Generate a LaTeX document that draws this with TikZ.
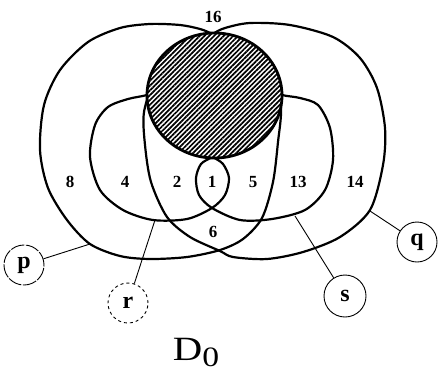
\documentclass[tikz,border=0pt]{standalone}
\usepackage{fontspec}
\setmainfont{Liberation Serif}
\usetikzlibrary{positioning,patterns.meta}

\begin{document}
\begin{tikzpicture}[x=1pt, y=-1pt,
    curve/.style={line width=2.2pt, line join=round},
    link/.style={line width=0.9pt},
    tag/.style={circle, draw, line width=0.9pt, minimum size=40pt, inner sep=0pt, font=\bfseries\fontsize{24}{24}\selectfont},
    num/.style={font=\bfseries\fontsize{17}{17}\selectfont, inner sep=1pt}]
  \useasboundingbox (0,0) rectangle (438,375);
  % Outer curves p and q
  \draw[curve] plot[smooth] coordinates {(222,42) (212,34) (200,29) (180,25) (150,24) (120,28) (88,42) (60,70) (44,105) (40,150) (48,188) (67,220) (90,244) (120,256) (150,259) (187,257) (220,250) (243,239) (262,218) (273,182) (278,142) (281,108) (274,75)};
  \draw[curve] plot[smooth] coordinates {(206,42) (213,34) (225,28) (250,23) (290,25) (333,37) (360,58) (377,88) (385,128) (383,165) (370,210) (340,237) (303,252) (267,259) (233,257) (220,251) (190,237) (167,217) (151,182) (145,145) (144,112) (155,75)};
  % Inner curves r and s
  \draw[curve] plot[smooth] coordinates {(165,88) (147,95) (128,99) (108,107) (95,125) (90,157) (100,190) (123,210) (153,220) (187,219) (212,208) (225,195) (229,178) (223,164) (213,157) (205,150)};
  \draw[curve] plot[smooth] coordinates {(264,88) (282,95) (300,98) (318,105) (330,128) (333,160) (325,190) (305,210) (272,219) (240,220) (212,208) (199,195) (196,178) (201,164) (212,157) (220,150)};
  % Hatched region
  \fill[white] (214.5,95.5) ellipse [x radius=67.5, y radius=62.5];
  \fill[pattern={Lines[angle=45, distance=3.4pt, line width=1.7pt]}] (214.5,95.5) ellipse [x radius=67.5, y radius=62.5];
  \draw[line width=2.8pt] (214.5,95.5) ellipse [x radius=67.5, y radius=62.5];
  % Region numbers
  \node[num] (n16) at (213,17) {16};
  \foreach \n/\x in {8/70, 4/125, 2/177, 1/212, 5/253, 13/298, 14/355}{
    \node[num] (n\n) at (\x,182) {\n};
  }
  \node[num] (n6) at (213,232) {6};
  % Set labels
  \node[tag, dash pattern=on 14pt off 1.5pt] (p) at (24,265) {p};
  \node[tag, dashed] (r) at (128,303) {r};
  \node[tag, minimum size=42pt] (s) at (345,296) {s};
  \node[tag] (q) at (417,242) {q};
  \coordinate (pend) at (90,244);
  \coordinate (rend) at (155,220);
  \coordinate (send) at (295,216);
  \coordinate (qend) at (370,211);
  \draw[link] (p) -- (pend);
  \draw[link] (r) -- (rend);
  \draw[link] (s) -- (send);
  \draw[link] (q) -- (qend);
  % Caption
  \node[font=\fontsize{34}{34}\selectfont, xscale=1.2, inner sep=0pt] (cap) at (196,352) {D\raisebox{-6pt}{\fontsize{28}{28}\selectfont 0}};
\end{tikzpicture}
\end{document}
